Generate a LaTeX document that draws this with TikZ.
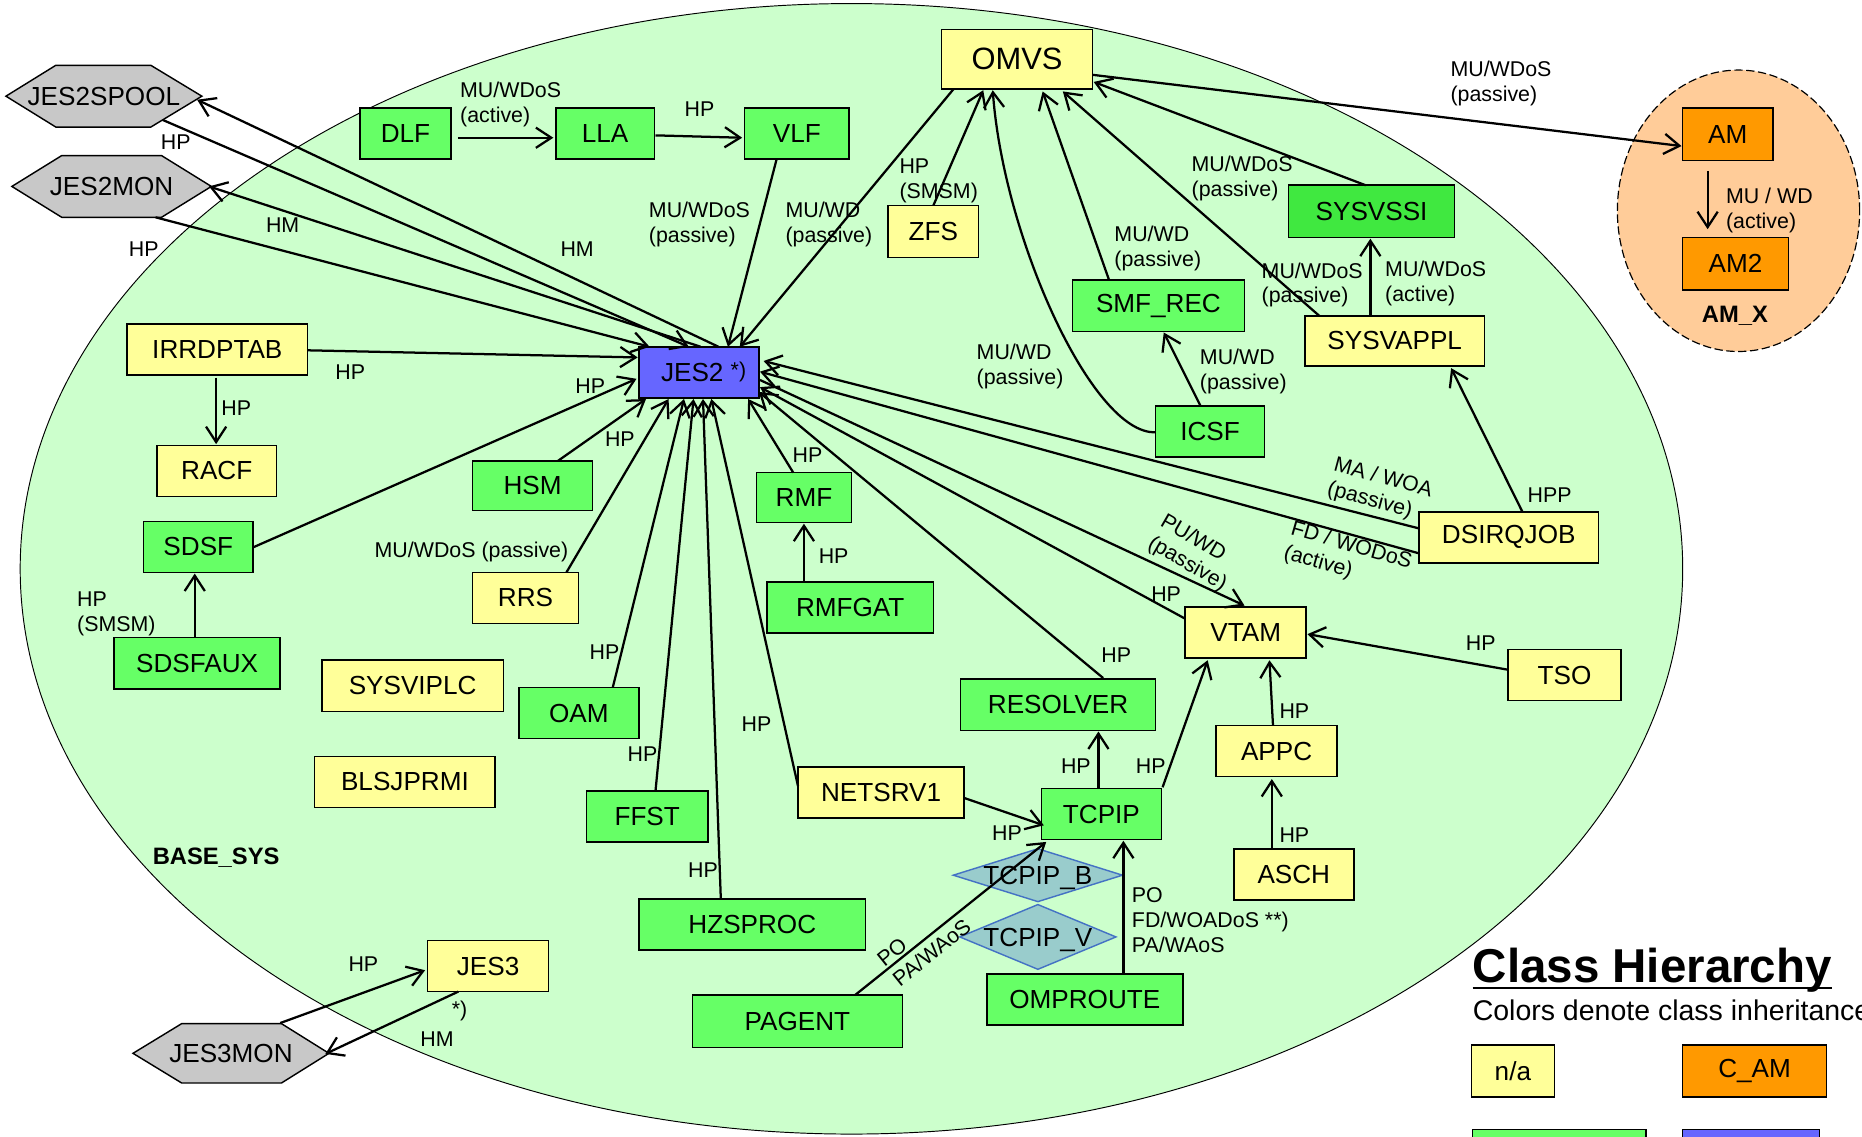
\documentclass[tikz,border=0pt]{standalone}
\usepackage{fontspec}
\setmainfont{Liberation Sans}
\usetikzlibrary{arrows.meta,calc,shapes.geometric}
\definecolor{cbg}{HTML}{CCFFCC}
\definecolor{cyel}{HTML}{FFFF99}
\definecolor{cgrn}{HTML}{66FF66}
\definecolor{cgrnb}{HTML}{40E840}
\definecolor{cblue}{HTML}{6666FF}
\definecolor{corange}{HTML}{FF9900}
\definecolor{cpeach}{HTML}{FFCC99}
\definecolor{cgray}{HTML}{C8C8C8}
\definecolor{cdia}{HTML}{99CCCC}
\definecolor{cdiab}{HTML}{4472C4}
\begin{document}
\begin{tikzpicture}[x=1pt,y=-1pt,
  box/.style={draw=black, line width=1.3pt, inner sep=0pt, text=black, font=\fontsize{22}{24}\selectfont},
  ybox/.style={box, fill=cyel},
  gbox/.style={box, fill=cgrn},
  hexlabel/.style={inner sep=0pt, font=\fontsize{22}{24}\selectfont},
  hexshape/.style={fill=cgray, draw=black, line width=1.2pt},
  diabox/.style={diamond, draw=cdiab, fill=cdia, line width=1.2pt, inner sep=0pt, font=\fontsize{22}{24}\selectfont},
  lbl/.style={inner sep=0pt, align=left, font=\fontsize{18}{21}\selectfont},
  blbl/.style={inner sep=0pt, font=\bfseries\fontsize{20}{22}\selectfont},
  arr/.style={line width=1.9pt, -{Straight Barb[length=13pt,width=17pt]}}
]
\useasboundingbox (0,0) rectangle (1568,957);
% background ellipses
\draw[fill=cbg, line width=0.8pt] (717,479) ellipse [x radius=700pt, y radius=476pt];
\draw[fill=cpeach, line width=1pt, dash pattern=on 7pt off 3pt] (1464,177.5) ellipse [x radius=102pt, y radius=118.5pt];

% hexagons
\draw[hexshape] (5,81) -- (47,55) -- (127,55) -- (170,81) -- (127,107) -- (47,107) -- cycle;
\draw[hexshape] (10,157) -- (52,131) -- (136,131) -- (178,157) -- (136,183) -- (52,183) -- cycle;
\draw[hexshape] (112,887) -- (153,862) -- (237,862) -- (277,887) -- (237,912) -- (153,912) -- cycle;
\node[hexlabel, minimum width=165pt, minimum height=52pt] (jesspool) at (87.5,81) {JES2SPOOL};
\node[hexlabel, minimum width=168pt, minimum height=52pt] (jesmon) at (94,157) {JES2MON};
\node[hexlabel, minimum width=165pt, minimum height=50pt] (jes3mon) at (194.5,887) {JES3MON};

% boxes
\node[gbox, minimum width=77pt, minimum height=43pt] (dlf) at (341.5,112.5) {DLF};
\node[gbox, minimum width=83pt, minimum height=43pt] (lla) at (509.5,112.5) {LLA};
\node[gbox, minimum width=88pt, minimum height=43pt] (vlf) at (671,112.5) {VLF};
\node[ybox, minimum width=127pt, minimum height=50pt, font=\fontsize{26}{28}\selectfont] (omvs) at (856.5,50) {OMVS};
\node[ybox, minimum width=76pt, minimum height=44pt] (zfs) at (786,195) {ZFS};
\node[box, fill=cgrnb, minimum width=140pt, minimum height=44pt] (sysvssi) at (1155,178) {SYSVSSI};
\node[gbox, minimum width=145pt, minimum height=43pt] (smfrec) at (975.5,257.5) {SMF\_REC};
\node[ybox, minimum width=151pt, minimum height=42pt] (sysvappl) at (1174.5,287) {SYSVAPPL};
\node[box, fill=corange, minimum width=76pt, minimum height=44pt] (am) at (1455,113) {AM};
\node[box, fill=corange, minimum width=89pt, minimum height=44pt] (amtwo) at (1461.5,222) {AM2};
\node[ybox, minimum width=152pt, minimum height=43pt] (irrdptab) at (183,294.5) {IRRDPTAB};
\node[box, fill=cblue, minimum width=101pt, minimum height=43pt] (jes2) at (588.5,313.5) {\hspace{8pt}JES2 \raisebox{3pt}{\fontsize{18}{18}\selectfont *)}};
\node[ybox, minimum width=101pt, minimum height=43pt] (racf) at (182.5,396.5) {RACF};
\node[gbox, minimum width=92pt, minimum height=43pt] (icsf) at (1019,363.5) {ICSF};
\node[gbox, minimum width=101pt, minimum height=42pt] (hsm) at (448.5,409) {HSM};
\node[gbox, minimum width=80pt, minimum height=42pt] (rmf) at (677,419) {RMF};
\node[gbox, minimum width=92pt, minimum height=43pt] (sdsf) at (167,460.5) {SDSF};
\node[ybox, minimum width=151pt, minimum height=43pt] (dsirqjob) at (1270.5,452.5) {DSIRQJOB};
\node[ybox, minimum width=89pt, minimum height=43pt] (rrs) at (442.5,503.5) {RRS};
\node[gbox, minimum width=140pt, minimum height=43pt] (rmfgat) at (716,511.5) {RMFGAT};
\node[ybox, minimum width=102pt, minimum height=43pt] (vtam) at (1049,532.5) {VTAM};
\node[gbox, minimum width=140pt, minimum height=43pt] (sdsfaux) at (166,558.5) {SDSFAUX};
\node[ybox, minimum width=153pt, minimum height=43pt] (sysviplc) at (347.5,577.5) {SYSVIPLC};
\node[gbox, minimum width=101pt, minimum height=43pt] (oam) at (487.5,600.5) {OAM};
\node[ybox, minimum width=95pt, minimum height=43pt] (tso) at (1317.5,568.5) {TSO};
\node[gbox, minimum width=164pt, minimum height=43pt] (resolver) at (891,593.5) {RESOLVER};
\node[ybox, minimum width=102pt, minimum height=43pt] (appc) at (1075,632.5) {APPC};
\node[ybox, minimum width=152pt, minimum height=43pt] (blsjprmi) at (341,658.5) {BLSJPRMI};
\node[ybox, minimum width=140pt, minimum height=43pt] (netsrv) at (742,667.5) {NETSRV1};
\node[gbox, minimum width=102pt, minimum height=43pt] (ffst) at (545,687.5) {FFST};
\node[gbox, minimum width=101pt, minimum height=43pt] (tcpip) at (927.5,685.5) {TCPIP};
\node[diabox, minimum width=143pt, minimum height=45pt] (tcpipb) at (874,737) {\smash{\makebox[0pt]{\raisebox{-8pt}{TCPIP\_B}}}};
\node[diabox, minimum width=132pt, minimum height=55pt] (tcpipv) at (874,789) {\smash{\makebox[0pt]{\raisebox{-8pt}{TCPIP\_V}}}};
\node[ybox, minimum width=101pt, minimum height=43pt] (asch) at (1089.5,736.5) {ASCH};
\node[gbox, minimum width=191pt, minimum height=43pt] (hzsproc) at (633.5,778.5) {HZSPROC};
\node[ybox, minimum width=102pt, minimum height=43pt] (jes3) at (411,813.5) {JES3};
\node[gbox, minimum width=177pt, minimum height=44pt] (pagent) at (671.5,860) {PAGENT};
\node[gbox, minimum width=165pt, minimum height=43pt] (omproute) at (913.5,841.5) {OMPROUTE};

% legend
\node[inner sep=0pt, anchor=base west, font=\bfseries\fontsize{40}{44}\selectfont] (ch) at (1240,827) {Class Hierarchy};
\draw[line width=2.5pt] ([yshift=-5pt]ch.base west) -- ([yshift=-5pt]ch.base east);
\node[inner sep=0pt, anchor=base west, font=\fontsize{24}{26}\selectfont] (cdesc) at (1240,859) {Colors denote class inheritance};
\node[ybox, minimum width=70pt, minimum height=44pt] (lna) at (1274,902) {n/a};
\node[box, fill=corange, minimum width=121pt, minimum height=44pt] (lcam) at (1477.5,902) {C\_AM};
\node[gbox, minimum width=146pt, minimum height=50pt] (lgrn) at (1313,976) {};
\node[box, fill=cblue, minimum width=115pt, minimum height=50pt] (lblu) at (1474.5,976) {};

% connectors
\draw[arr] ($(jesspool)+(49.5,20)$) -- ($(jes2)+(-8.5,-21.5)$);
\draw[arr] ($(jes2)+(16.5,-21.5)$) -- ($(jesspool)+(78.5,3)$);
\draw[arr] ($(jesmon)+(37,26)$) -- ($(jes2)+(-41.5,-21.5)$);
\draw[arr] ($(jes2)+(1.5,-21.5)$) -- ($(jesmon)+(82,0)$);
\draw[arr] ($(dlf)+(44,3.5)$) -- ($(lla)+(-43.5,3.5)$);
\draw[arr] ($(lla)+(42.5,1.5)$) -- ($(vlf)+(-46,3.5)$);
\draw[arr] ($(vlf)+(-17,21.5)$) -- ($(jes2)+(24.5,-21.5)$);
\draw[arr] ($(omvs)+(-53.5,25)$) -- ($(jes2)+(34.5,-21.5)$);
\draw[arr] ($(zfs)+(0,-22)$) -- ($(omvs)+(-28.5,26)$);
\draw[arr] ($(icsf)+(-46,0.5)$) .. controls (920,366) and (845,200) .. ($(omvs)+(-20.5,26)$);
\draw[arr] ($(smfrec)+(-41.5,-21.5)$) -- ($(omvs)+(21.5,27)$);
\draw[arr] ($(sysvappl)+(-63.5,-21)$) -- ($(omvs)+(38.5,27)$);
\draw[arr] ($(sysvssi)+(-5,-22)$) -- ($(omvs)+(64.5,19)$);
\draw[arr] ($(sysvappl)+(-20.5,-21)$) -- ($(sysvssi)+(-1,23)$);
\draw[arr] ($(omvs)+(63.5,13)$) -- ($(am)+(-39,10)$);
\draw[arr] ($(am)+(-17,31)$) -- ($(amtwo)+(-23.5,-29)$);
\draw[arr] ($(icsf)+(-8,-21.5)$) -- ($(smfrec)+(4.5,22.5)$);
\draw[arr] ($(dsirqjob)+(11.5,-21.5)$) -- ($(sysvappl)+(47.5,23)$);
\draw[arr] ($(irrdptab)+(76,0.5)$) -- ($(jes2)+(-51.5,-12.5)$);
\draw[arr] ($(irrdptab)+(-1,23.5)$) -- ($(racf)+(-0.5,-22.5)$);
\draw[arr] ($(sdsf)+(46,0.5)$) -- ($(jes2)+(-52.5,5.5)$);
\draw[arr] ($(sdsfaux)+(-2,-21.5)$) -- ($(sdsf)+(-3,22.5)$);
\draw[arr] ($(hsm)+(21.5,-21)$) -- ($(jes2)+(-44.5,22.5)$);
\draw[arr] ($(rrs)+(34.5,-21.5)$) -- ($(jes2)+(-25.5,22.5)$);
\draw[arr] ($(oam)+(28.5,-21.5)$) -- ($(jes2)+(-12.5,22.5)$);
\draw[arr] ($(ffst)+(7,-21.5)$) -- ($(jes2)+(-4.5,22.5)$);
\draw[arr] ($(hzsproc)+(-26.5,-21.5)$) -- ($(jes2)+(3.5,22.5)$);
\draw[arr] ($(netsrv)+(-70,-5.5)$) -- ($(jes2)+(10.5,22.5)$);
\draw[arr] ($(rmf)+(-9,-21)$) -- ($(jes2)+(41.5,22.5)$);
\draw[arr] ($(rmfgat)+(-39,-21.5)$) -- ($(rmf)+(0,22)$);
\draw[arr] ($(resolver)+(38,-22.5)$) -- ($(jes2)+(50.5,16.5)$);
\draw[arr] ($(vtam)+(-51,-11.5)$) -- ($(jes2)+(51.5,12.5)$);
\draw[arr] ($(jes2)+(51.5,6.5)$) -- ($(vtam)+(-1,-22.5)$);
\draw[arr] ($(dsirqjob)+(-75.5,-7.5)$) -- ($(jes2)+(54.5,-9.5)$);
\draw[arr] ($(dsirqjob)+(-75.5,13.5)$) -- ($(jes2)+(51.5,-0.5)$);
\draw[arr] ($(tso)+(-47.5,-4.5)$) -- ($(vtam)+(52,1.5)$);
\draw[arr] ($(appc)+(-3,-21.5)$) -- ($(vtam)+(20,23.5)$);
\draw[arr] ($(asch)+(-18.5,-22.5)$) -- ($(appc)+(-4,23.5)$);
\draw[arr] ($(tcpip)+(51.5,-22.5)$) -- ($(vtam)+(-32,23.5)$);
\draw[arr] ($(tcpip)+(-2.5,-21.5)$) -- ($(resolver)+(34,22.5)$);
\draw[arr] ($(netsrv)+(70,4.5)$) -- ($(tcpip)+(-48.5,9.5)$);
\draw[arr] ($(pagent)+(48.5,-22)$) -- ($(tcpip)+(-46.5,23.5)$);
\draw[arr] ($(omproute)+(32.5,-21.5)$) -- ($(tcpip)+(18.5,22.5)$);
\draw[arr] ($(jes3mon)+(41.5,-25.5)$) -- ($(jes3)+(-53,3.5)$);
\draw[arr] ($(jes3)+(-25,21.5)$) -- ($(jes3mon)+(79.5,0.5)$);

% labels
\node[lbl] (l1) at (148,120) {HP};
\node[lbl] (l2) at (486,210) {HM};
\node[lbl] (l3) at (238,190) {HM};
\node[lbl] (l4) at (121,210) {HP};
\node[lbl] (l5) at (430,88) {MU/WDoS\\(active)};
\node[lbl] (l6) at (589,92) {HP};
\node[lbl] (l7) at (589,189) {MU/WDoS\\(passive)};
\node[lbl] (l8) at (698,189) {MU/WD\\(passive)};
\node[lbl] (l9) at (790.5,152) {HP\\(SMSM)};
\node[lbl] (l10) at (859,309) {MU/WD\\(passive)};
\node[lbl] (l11) at (975,209) {MU/WD\\(passive)};
\node[lbl] (l12) at (1105,240) {MU/WDoS\\(passive)};
\node[lbl] (l13) at (1046,150) {MU/WDoS\\(passive)};
\node[lbl] (l14) at (1209,239) {MU/WDoS\\(active)};
\node[lbl] (l15) at (1264,70) {MU/WDoS\\(passive)};
\node[lbl] (l16) at (1490,177) {MU / WD\\(active)};
\node[blbl] (l17) at (1461,266) {AM\_X};
\node[lbl] (l18) at (1047,313) {MU/WD\\(passive)};
\node[lbl] (l19) at (1305,417) {HPP};
\node[lbl] (l20) at (295,313) {HP};
\node[lbl] (l21) at (199,344) {HP};
\node[lbl] (l22) at (497,325) {HP};
\node[lbl] (l23) at (98,517) {HP\\(SMSM)};
\node[lbl] (l24) at (522,370) {HP};
\node[lbl] (l25) at (397,465) {MU/WDoS (passive)};
\node[lbl] (l26) at (509,549) {HP};
\node[lbl] (l27) at (541,635) {HP};
\node[lbl] (l28) at (592,733) {HP};
\node[lbl] (l29) at (637,610) {HP};
\node[lbl] (l30) at (680,383) {HP};
\node[lbl] (l31) at (702,468) {HP};
\node[lbl] (l32) at (940,552) {HP};
\node[lbl] (l33) at (982,500) {HP};
\node[lbl, rotate=-30] (l34) at (1005,466) {PU/WD\\(passive)};
\node[lbl, rotate=-15] (l35) at (1162,413) {MA / WOA\\(passive)};
\node[lbl, rotate=-16] (l36) at (1135,470) {FD / WODoS\\(active)};
\node[lbl] (l37) at (1247,542) {HP};
\node[lbl] (l38) at (1090,599) {HP};
\node[lbl] (l39) at (1090,703) {HP};
\node[lbl] (l40) at (969,645) {HP};
\node[lbl] (l41) at (906,645) {HP};
\node[lbl] (l42) at (848,702) {HP};
\node[lbl, rotate=38.7] (l43) at (778,794) {PO\\PA/WAoS};
\node[lbl, anchor=north west] (l44) at (953,747) {PO\\FD/WOADoS **)\\PA/WAoS};
\node[lbl] (l45) at (306,812) {HP};
\node[lbl] (l46) at (387,851) {*)};
\node[lbl] (l47) at (368,875) {HM};
\node[blbl] (l48) at (182,722) {BASE\_SYS};
\end{tikzpicture}
\end{document}
